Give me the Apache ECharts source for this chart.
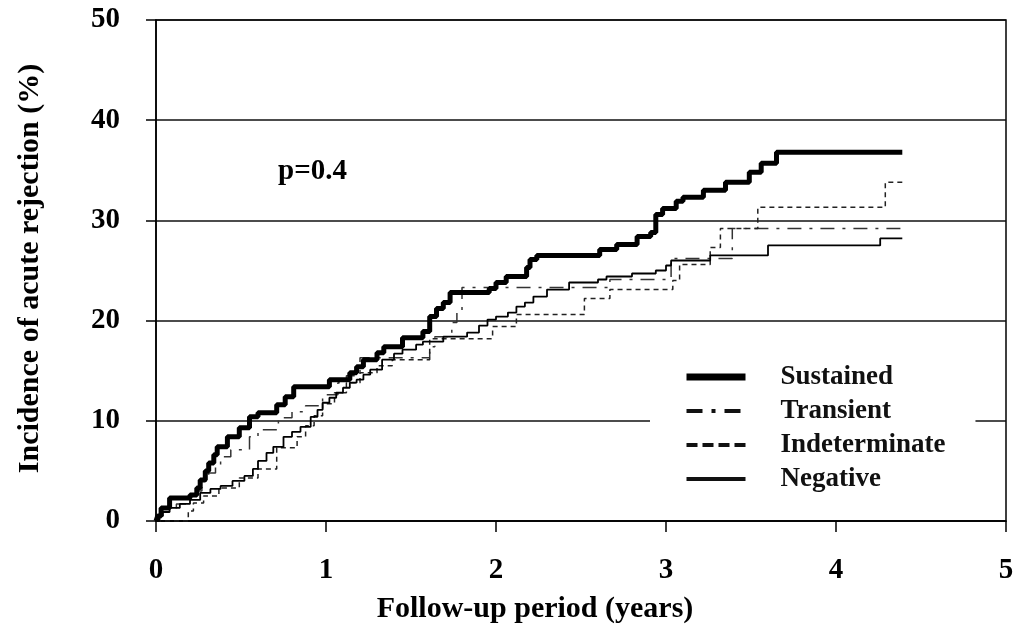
<!DOCTYPE html>
<html>
<head>
<meta charset="utf-8">
<script src="https://cdn.jsdelivr.net/npm/echarts@6/dist/echarts.min.js"></script>
<style>html,body{margin:0;padding:0;background:#fff}#c{width:1020px;height:630px}</style>
</head>
<body>
<div id="c"></div>
<script>
// ---- data (years, cumulative incidence %) ----
const seriesNames = ['Sustained', 'Transient', 'Indeterminate', 'Negative'];
const xTicks = [0, 1, 2, 3, 4, 5];
const yTicks = [0, 10, 20, 30, 40, 50];
const pValueText = 'p=0.4';

const sustainedData = [[0,0],[0.01,0.5],[0.03,1.3],[0.08,2.3],[0.2,2.6],[0.24,3.3],[0.26,4.1],[0.29,5.0],[0.31,5.8],[0.34,6.6],[0.36,7.4],[0.42,8.4],[0.49,9.3],[0.55,10.4],[0.6,10.8],[0.71,11.6],[0.76,12.4],[0.81,13.4],[1.02,14.1],[1.14,14.8],[1.18,15.4],[1.22,16.1],[1.3,16.8],[1.34,17.4],[1.45,18.3],[1.57,18.9],[1.61,20.4],[1.65,21.2],[1.69,21.8],[1.73,22.8],[1.96,23.2],[2.0,23.8],[2.06,24.4],[2.18,25.3],[2.2,26.1],[2.24,26.5],[2.61,27.1],[2.71,27.6],[2.83,28.4],[2.91,28.8],[2.94,30.6],[2.98,31.2],[3.06,31.9],[3.1,32.3],[3.22,33.0],[3.35,33.8],[3.49,34.8],[3.56,35.7],[3.65,36.8],[4.39,36.8]];

const transientData = [[0,0],[0.02,0.7],[0.06,1.2],[0.12,1.7],[0.2,2.2],[0.24,3.0],[0.27,4.0],[0.31,4.8],[0.35,5.4],[0.38,6.4],[0.44,7.1],[0.55,8.4],[0.6,9.1],[0.72,10.3],[0.8,10.9],[0.88,11.5],[0.98,12.6],[1.07,13.8],[1.12,14.5],[1.2,16.3],[1.61,17.4],[1.64,18.4],[1.74,19.8],[1.77,20.8],[1.8,23.3],[2.67,24.1],[3.03,26.2],[3.39,29.2],[4.39,29.2]];

const indeterminateData = [[0,0],[0.19,1.0],[0.22,1.8],[0.28,2.5],[0.37,3.3],[0.49,4.3],[0.6,5.2],[0.71,7.3],[0.83,8.4],[0.88,9.5],[0.93,10.5],[0.98,11.7],[1.05,12.8],[1.12,13.8],[1.2,14.8],[1.3,15.5],[1.39,16.1],[1.61,18.2],[1.98,19.4],[2.12,20.6],[2.52,22.2],[2.67,23.1],[3.04,24.0],[3.08,25.6],[3.26,27.3],[3.32,29.2],[3.54,31.3],[4.29,33.8],[4.39,33.8]];

const negativeData = [[0,0],[0.02,0.5],[0.04,0.9],[0.08,1.3],[0.14,1.7],[0.2,2.1],[0.26,2.8],[0.32,3.2],[0.38,3.5],[0.45,4.0],[0.52,4.5],[0.57,5.2],[0.6,6.0],[0.65,6.8],[0.69,7.4],[0.75,8.4],[0.8,8.9],[0.85,9.4],[0.91,10.4],[0.95,11.1],[0.98,11.8],[1.02,12.3],[1.06,12.8],[1.1,13.3],[1.14,13.8],[1.18,14.1],[1.22,14.6],[1.26,15.1],[1.33,16.1],[1.4,16.7],[1.45,17.1],[1.53,17.6],[1.57,17.9],[1.69,18.4],[1.83,18.8],[1.9,19.5],[1.95,20.1],[2.0,20.4],[2.07,20.8],[2.12,21.4],[2.17,21.8],[2.22,22.4],[2.3,23.1],[2.43,23.8],[2.6,24.1],[2.65,24.4],[2.8,24.7],[2.94,25.0],[3.0,25.5],[3.03,26.0],[3.26,26.5],[3.6,27.5],[4.26,28.2],[4.39,28.2]];

const FONT = '"Liberation Serif", "Times New Roman", serif';

const chart = echarts.init(document.getElementById('c'), null, {renderer: 'canvas'});
const labelStyle = {color: '#000', fontFamily: FONT, fontWeight: 'bold', fontSize: 29};
const titleStyle = {color: '#000', fontFamily: FONT, fontWeight: 'bold', fontSize: 30};
const hidden = {opacity: 0};

chart.setOption({
  animation: false,
  backgroundColor: '#fff',
  grid: {show: true, left: 156, right: 14, top: 20, bottom: 109, borderColor: '#000', borderWidth: 1.5, backgroundColor: 'transparent'},
  xAxis: {
    type: 'value', min: xTicks[0], max: xTicks[xTicks.length-1], interval: 1,
    name: 'Follow-up period (years)', nameLocation: 'middle', nameGap: 73,
    nameTextStyle: Object.assign({}, titleStyle, {padding: [0, 92, 0, 0]}),
    axisLine: {lineStyle: {color: '#000', width: 1.5}},
    axisTick: {show: true, length: 11, lineStyle: {color: '#000', width: 1.5}},
    axisLabel: Object.assign({}, labelStyle, {margin: 35}),
    splitLine: {show: false}
  },
  yAxis: {
    type: 'value', min: yTicks[0], max: yTicks[yTicks.length-1], interval: 10,
    name: 'Incidence of acute rejection (%)', nameLocation: 'middle', nameGap: 111,
    nameTextStyle: Object.assign({}, titleStyle, {padding: [0, 0, 0, 4]}),
    axisLine: {show: true, lineStyle: {color: '#000', width: 1.5}},
    axisTick: {show: true, length: 10, lineStyle: {color: '#000', width: 1.5}},
    axisLabel: Object.assign({}, labelStyle, {margin: 36}),
    splitLine: {show: true, lineStyle: {color: '#111', width: 1.5}}
  },
  legend: {
    orient: 'vertical', left: 650, top: 355,
    padding: [8, 30, 8, 33],
    backgroundColor: '#fff',
    itemWidth: 59, itemHeight: 14, itemGap: 6,
    textStyle: {color: '#111', fontFamily: FONT, fontWeight: 'bold', fontSize: 27, lineHeight: 28, padding: [0, 0, 0, 30]},
    data: [
      {name: seriesNames[0], itemStyle: hidden, lineStyle: {width: 7, color: '#000', type: 'solid'}},
      {name: seriesNames[1], itemStyle: hidden, lineStyle: {width: 4, color: '#111', type: [16, 9, 4, 9]}},
      {name: seriesNames[2], itemStyle: hidden, lineStyle: {width: 4, color: '#111', type: [11, 5]}},
      {name: seriesNames[3], itemStyle: hidden, lineStyle: {width: 4, color: '#111', type: 'solid'}}
    ]
  },
  graphic: [{type: 'text', left: 278, top: 157, style: {text: pValueText, fill: '#000', font: 'bold 29px ' + FONT}}],
  series: [
    {name: seriesNames[0], type: 'line', step: 'end', symbol: 'none', data: sustainedData, z: 5,
      itemStyle: {color: '#000'}, lineStyle: {color: '#000', width: 5}},
    {name: seriesNames[1], type: 'line', step: 'end', symbol: 'none', data: transientData, z: 3,
      itemStyle: {color: '#333'}, lineStyle: {color: '#333', width: 1.5, type: [14, 8, 3, 8]}},
    {name: seriesNames[2], type: 'line', step: 'end', symbol: 'none', data: indeterminateData, z: 3,
      itemStyle: {color: '#222'}, lineStyle: {color: '#222', width: 1.5, type: [5, 4]}},
    {name: seriesNames[3], type: 'line', step: 'end', symbol: 'none', data: negativeData, z: 4,
      itemStyle: {color: '#000'}, lineStyle: {color: '#000', width: 1.8}}
  ]
});
</script>
</body>
</html>
